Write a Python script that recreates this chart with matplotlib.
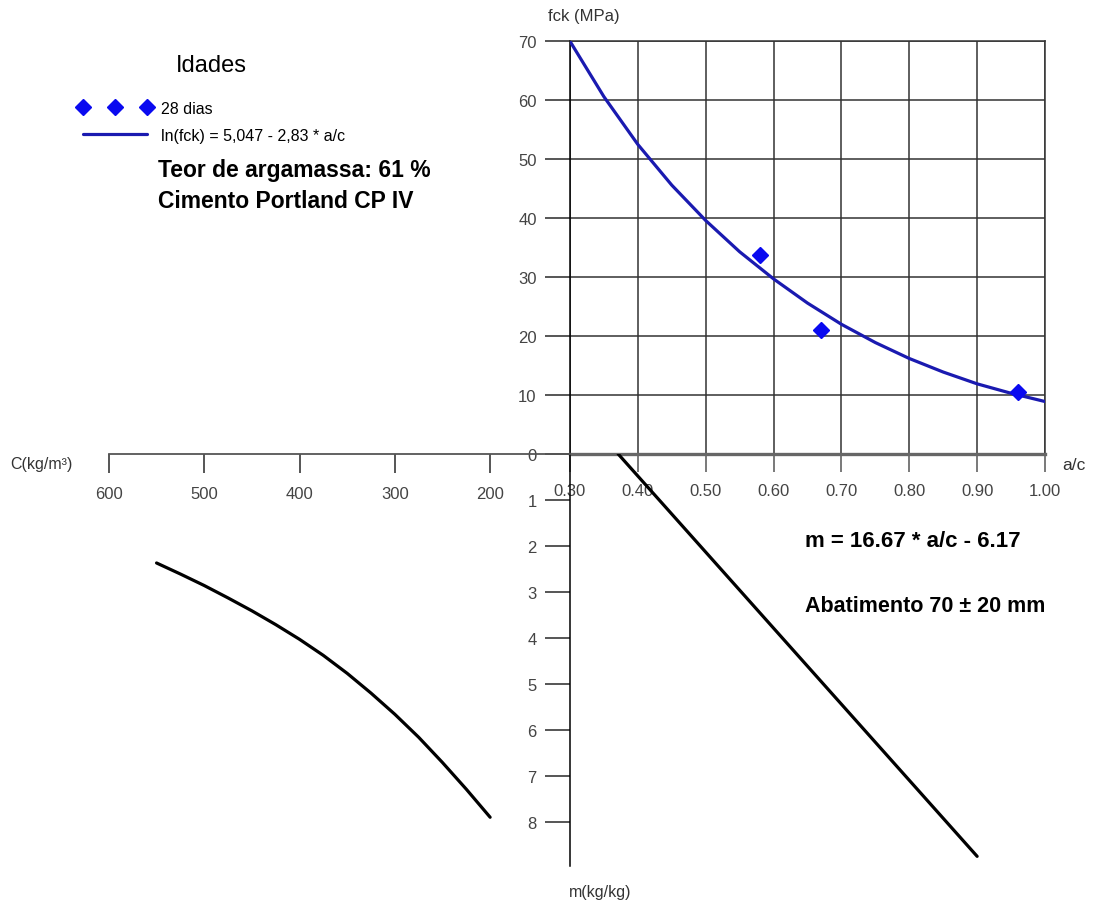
import matplotlib
matplotlib.use("Agg")
import matplotlib.pyplot as plt

plt.rcParams['font.family'] = ['Liberation Sans', 'DejaVu Sans']

# ensaios a 28 dias (a/c, fck)
ac_pts = [0.58, 0.67, 0.96]
fck_pts = [33.7, 21.0, 10.5]

# curva de Abrams
ac_curve = [0.30, 0.35, 0.40, 0.45, 0.50, 0.55, 0.60, 0.65,
            0.70, 0.75, 0.80, 0.85, 0.90, 0.95, 1.00]
fck_curve = [70.0, 60.6, 52.5, 45.6, 39.6, 34.3, 29.7, 25.6,
             22.0, 18.9, 16.2, 13.9, 11.9, 10.3, 8.9]

# lei de Lyse (a/c, m)
ac_lyse = [0.371, 0.90]
m_lyse = [0.0, 8.75]

# lei de Molinari (C, m)
c_molinari = [550, 525, 500, 475, 450, 425, 400, 375,
              350, 325, 300, 275, 250, 225, 200]
m_molinari = [2.37, 2.61, 2.86, 3.13, 3.41, 3.71, 4.03, 4.38,
              4.77, 5.20, 5.66, 6.16, 6.71, 7.29, 7.90]

ac_ticks = [0.30, 0.40, 0.50, 0.60, 0.70, 0.80, 0.90, 1.00]
fck_ticks = [0, 10, 20, 30, 40, 50, 60, 70]
m_ticks = [1, 2, 3, 4, 5, 6, 7, 8]
c_ticks = [600, 500, 400, 300, 200]

W, H = 1094, 903
fig = plt.figure(figsize=(W / 100, H / 100), dpi=100)


def box(l, t, r, b):
    return [l / W, 1 - b / H, (r - l) / W, (b - t) / H]


X0, Y0 = 570, 455
tick_col = '#555555'
lab_col = '#444444'

# --- quadrante fck x a/c ---
ax = fig.add_axes(box(X0, 42.3, 1045, Y0))
ax.set_xlim(0.30, 1.00)
ax.set_ylim(0, 70)
ax.set_xticks(ac_ticks)
ax.set_xticklabels([f'{v:.2f}' for v in ac_ticks])
ax.set_yticks(fck_ticks)
ax.grid(True, color='#333333', lw=1.1)
for s in ['top', 'right']:
    ax.spines[s].set_color('#333333')
    ax.spines[s].set_linewidth(1.1)
ax.spines['left'].set_color('black')
ax.spines['left'].set_linewidth(1.1)
ax.spines['bottom'].set_color('#666666')
ax.spines['bottom'].set_linewidth(2.4)
ax.tick_params(axis='x', direction='out', length=13, width=1.1, color=tick_col,
               labelsize=12, labelcolor=lab_col, pad=8)
ax.tick_params(axis='y', direction='out', length=18, width=1.4, color=tick_col,
               labelsize=12, labelcolor=lab_col, pad=6)
ax.plot(ac_curve, fck_curve, color='#1a1ab0', lw=2.3, solid_capstyle='round',
        solid_joinstyle='round', label='ln(fck) = 5,047 - 2,83 * a/c', zorder=3)
ax.plot(ac_pts, fck_pts, ls='none', marker='D', ms=8, color='#0a0af0',
        label='28 dias', zorder=4)
h, l = ax.get_legend_handles_labels()
leg = ax.legend([h[1], h[0]], [l[1], l[0]], title='Idades', numpoints=3,
                loc='upper left', bbox_to_anchor=(78 / W, 1 - 55 / H),
                bbox_transform=fig.transFigure, frameon=False, fontsize=11.5,
                title_fontsize=17, handlelength=4.6, handletextpad=0.6,
                labelspacing=0.72, borderpad=0, borderaxespad=0)
leg._legend_box.sep = 18

# --- quadrante m x a/c ---
axb = fig.add_axes(box(X0, Y0, 1045, 867))
axb.set_xlim(0.30, 1.00)
axb.set_ylim(8.96, 0)
axb.patch.set_alpha(0)
for s in ['top', 'right', 'bottom']:
    axb.spines[s].set_visible(False)
axb.spines['left'].set_color('black')
axb.spines['left'].set_linewidth(1.1)
axb.set_xticks([])
axb.set_yticks(m_ticks)
axb.tick_params(axis='y', direction='out', length=18, width=1.4, color=tick_col,
                labelsize=12, labelcolor=lab_col, pad=6)
axb.plot(ac_lyse, m_lyse, color='black', lw=2.3, solid_capstyle='round')

# --- quadrante m x C ---
axl = fig.add_axes(box(108.9, Y0, X0, 867))
axl.set_xlim(600, 116.2)
axl.set_ylim(8.96, 0)
axl.patch.set_alpha(0)
for s in ['top', 'right', 'left']:
    axl.spines[s].set_visible(False)
axl.spines['bottom'].set_position(('axes', 1.0))
axl.spines['bottom'].set_color(tick_col)
axl.spines['bottom'].set_linewidth(1.3)
axl.set_xticks(c_ticks)
axl.set_yticks([])
axl.tick_params(axis='x', direction='out', length=14, width=1.4, color=tick_col,
                labelsize=12, labelcolor=lab_col, pad=9)
axl.plot(c_molinari, m_molinari, color='black', lw=2.3, solid_capstyle='round',
         solid_joinstyle='round')

# --- rotulos ---
fig.text(548 / W, 1 - 17 / H, 'fck (MPa)', fontsize=12, color='#333333',
         ha='left', va='center')
fig.text(1062 / W, 1 - 465 / H, 'a/c', fontsize=12.5, color='#333333',
         ha='left', va='center')
fig.text(10 / W, 1 - 465 / H, 'C(kg/m³)', fontsize=11.5, color='#333333',
         ha='left', va='center')
fig.text(600 / W, 1 - 893 / H, 'm(kg/kg)', fontsize=11.5, color='#333333',
         ha='center', va='center')

fig.text(158 / W, 1 - 170 / H, 'Teor de argamassa: 61 %', fontsize=16.5,
         fontweight='bold', ha='left', va='center')
fig.text(158 / W, 1 - 202 / H, 'Cimento Portland CP IV', fontsize=16.5,
         fontweight='bold', ha='left', va='center')
fig.text(805 / W, 1 - 542 / H, 'm = 16.67 * a/c - 6.17', fontsize=16,
         fontweight='bold', ha='left', va='center')
fig.text(805 / W, 1 - 607 / H, 'Abatimento 70 ± 20 mm', fontsize=15.5,
         fontweight='bold', ha='left', va='center')

fig.savefig('out.png', dpi=100)
